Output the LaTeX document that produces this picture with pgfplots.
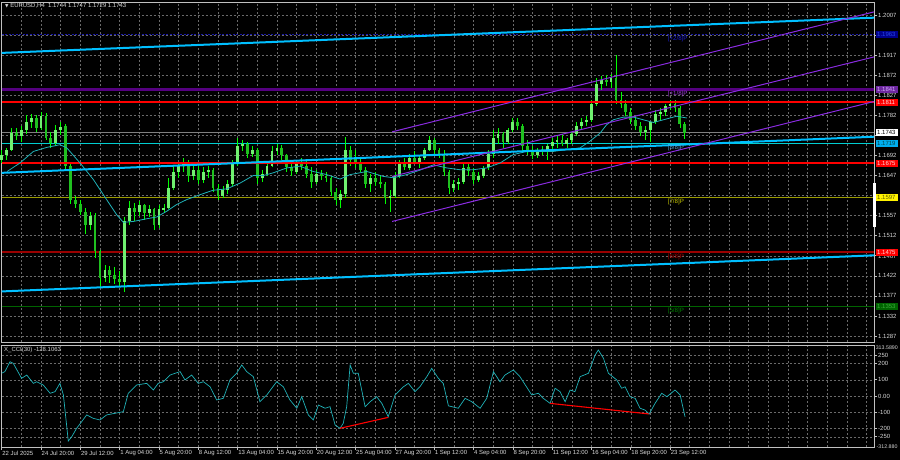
\documentclass[border=0pt]{standalone}
\usepackage{pgfplots}
\pgfplotsset{compat=1.18}
\usepackage{pgfplotstable}
\usepackage{fontspec}
\setmainfont{Liberation Sans}
\newfontfamily\dejavu{DejaVu Sans}
\definecolor{gridc}{HTML}{6A6A6A}
\definecolor{axisc}{HTML}{C0C0C0}
\definecolor{labc}{HTML}{D8D8D8}
\definecolor{wickc}{HTML}{00FF00}
\definecolor{bullc}{HTML}{70F070}
\definecolor{bearc}{HTML}{20C020}
\definecolor{mac}{HTML}{20B2B8}
\definecolor{trendc}{HTML}{00BFFF}
\definecolor{purpc}{HTML}{8A2BE2}
\definecolor{bandc}{HTML}{550080}
\definecolor{navyc}{HTML}{1A1AA8}
\definecolor{olivc}{HTML}{9B9B00}
\definecolor{dredc}{HTML}{9A0000}
\definecolor{dgreenc}{HTML}{006400}
\definecolor{cyanl}{HTML}{00CED1}
\tikzset{
  lab/.style={anchor=west, xshift=2bp, minimum height=7bp, text width=20bp,
    inner xsep=1bp, inner ysep=0pt, font=\fontsize{6}{6}\selectfont},
  mur/.style={anchor=north west, inner sep=0pt, yshift=-1.5bp, font=\fontsize{6.2}{7}\selectfont},
}

\pgfplotstableread{
i o h l c
0 1.1683 1.1705 1.1674 1.1694
2 1.1694 1.1709 1.1683 1.1705
4 1.1705 1.1754 1.1701 1.1743
6 1.1743 1.1754 1.1727 1.1736
8 1.1736 1.1757 1.1723 1.1750
10 1.1750 1.1783 1.1741 1.1768
12 1.1768 1.1786 1.1754 1.1777
14 1.1777 1.1783 1.1745 1.1754
16 1.1754 1.1790 1.1748 1.1781
18 1.1781 1.1788 1.1727 1.1732
20 1.1732 1.1745 1.1709 1.1721
22 1.1721 1.1761 1.1714 1.1750
24 1.1750 1.1768 1.1739 1.1757
26 1.1757 1.1763 1.1660 1.1669
28 1.1669 1.1674 1.1582 1.1593
30 1.1593 1.1602 1.1575 1.1584
32 1.1584 1.1593 1.1559 1.1566
34 1.1566 1.1575 1.1517 1.1535
36 1.1535 1.1566 1.1526 1.1557
38 1.1557 1.1562 1.1463 1.1477
40 1.1477 1.1481 1.1396 1.1418
42 1.1418 1.1447 1.1409 1.1436
44 1.1436 1.1445 1.1405 1.1423
46 1.1423 1.1441 1.1403 1.1414
48 1.1414 1.1432 1.1398 1.1409
50 1.1409 1.1553 1.1385 1.1544
52 1.1544 1.1589 1.1535 1.1575
54 1.1575 1.1586 1.1544 1.1566
56 1.1566 1.1589 1.1557 1.1580
58 1.1580 1.1584 1.1548 1.1562
60 1.1562 1.1580 1.1553 1.1571
62 1.1571 1.1575 1.1526 1.1535
64 1.1535 1.1580 1.1530 1.1571
66 1.1571 1.1582 1.1562 1.1575
68 1.1575 1.1642 1.1571 1.1620
70 1.1620 1.1671 1.1615 1.1656
72 1.1656 1.1678 1.1642 1.1669
74 1.1669 1.1687 1.1656 1.1678
76 1.1678 1.1683 1.1633 1.1647
78 1.1647 1.1669 1.1638 1.1660
80 1.1660 1.1669 1.1629 1.1638
82 1.1638 1.1665 1.1631 1.1656
84 1.1656 1.1669 1.1642 1.1660
86 1.1660 1.1665 1.1611 1.1620
88 1.1620 1.1629 1.1593 1.1602
90 1.1602 1.1624 1.1597 1.1615
92 1.1615 1.1638 1.1606 1.1629
94 1.1629 1.1683 1.1624 1.1674
96 1.1674 1.1732 1.1669 1.1714
98 1.1714 1.1727 1.1701 1.1718
100 1.1718 1.1723 1.1687 1.1696
102 1.1696 1.1714 1.1689 1.1705
104 1.1705 1.1709 1.1629 1.1642
106 1.1642 1.1660 1.1633 1.1651
108 1.1651 1.1678 1.1647 1.1669
110 1.1669 1.1714 1.1665 1.1701
112 1.1701 1.1718 1.1692 1.1709
114 1.1709 1.1716 1.1683 1.1692
116 1.1692 1.1696 1.1656 1.1665
118 1.1665 1.1674 1.1647 1.1656
120 1.1656 1.1683 1.1651 1.1674
122 1.1674 1.1687 1.1660 1.1669
124 1.1669 1.1683 1.1642 1.1651
126 1.1651 1.1665 1.1620 1.1633
128 1.1633 1.1660 1.1629 1.1651
130 1.1651 1.1660 1.1638 1.1647
132 1.1647 1.1656 1.1633 1.1642
134 1.1642 1.1647 1.1602 1.1611
136 1.1611 1.1620 1.1580 1.1593
138 1.1593 1.1615 1.1575 1.1606
140 1.1606 1.1734 1.1597 1.1705
142 1.1705 1.1714 1.1669 1.1683
144 1.1683 1.1705 1.1665 1.1674
146 1.1674 1.1687 1.1656 1.1660
148 1.1660 1.1665 1.1620 1.1629
150 1.1629 1.1651 1.1611 1.1642
152 1.1642 1.1656 1.1624 1.1633
154 1.1633 1.1647 1.1620 1.1629
156 1.1629 1.1633 1.1584 1.1597
158 1.1597 1.1615 1.1566 1.1602
160 1.1602 1.1656 1.1597 1.1647
162 1.1647 1.1683 1.1642 1.1674
164 1.1674 1.1687 1.1660 1.1665
166 1.1665 1.1696 1.1660 1.1687
168 1.1687 1.1701 1.1674 1.1678
170 1.1678 1.1694 1.1665 1.1687
172 1.1687 1.1709 1.1683 1.1705
174 1.1705 1.1736 1.1701 1.1727
176 1.1727 1.1732 1.1692 1.1705
178 1.1705 1.1709 1.1687 1.1696
180 1.1696 1.1705 1.1647 1.1656
182 1.1656 1.1660 1.1606 1.1620
184 1.1620 1.1638 1.1611 1.1629
186 1.1629 1.1642 1.1615 1.1633
188 1.1633 1.1674 1.1629 1.1665
190 1.1665 1.1678 1.1647 1.1656
192 1.1656 1.1665 1.1629 1.1638
194 1.1638 1.1656 1.1633 1.1647
196 1.1647 1.1669 1.1642 1.1665
198 1.1665 1.1705 1.1660 1.1696
200 1.1696 1.1750 1.1687 1.1732
202 1.1732 1.1754 1.1718 1.1741
204 1.1741 1.1745 1.1709 1.1723
206 1.1723 1.1754 1.1718 1.1750
208 1.1750 1.1777 1.1745 1.1768
210 1.1768 1.1777 1.1750 1.1759
212 1.1759 1.1763 1.1701 1.1714
214 1.1714 1.1727 1.1692 1.1701
216 1.1701 1.1714 1.1683 1.1692
218 1.1692 1.1709 1.1687 1.1705
220 1.1705 1.1714 1.1692 1.1701
222 1.1701 1.1718 1.1683 1.1714
224 1.1714 1.1732 1.1705 1.1723
226 1.1723 1.1736 1.1709 1.1727
228 1.1727 1.1741 1.1714 1.1718
230 1.1718 1.1732 1.1709 1.1727
232 1.1727 1.1745 1.1718 1.1741
234 1.1741 1.1768 1.1736 1.1759
236 1.1759 1.1777 1.1750 1.1768
238 1.1768 1.1781 1.1759 1.1772
240 1.1772 1.1817 1.1768 1.1808
242 1.1808 1.1866 1.1804 1.1853
244 1.1853 1.1871 1.1839 1.1862
246 1.1862 1.1873 1.1848 1.1857
248 1.1857 1.1875 1.1844 1.1866
250 1.1866 1.1918 1.1808 1.1817
252 1.1817 1.1835 1.1799 1.1808
254 1.1808 1.1817 1.1781 1.1790
256 1.1790 1.1799 1.1763 1.1772
258 1.1772 1.1781 1.1750 1.1759
260 1.1759 1.1768 1.1736 1.1745
262 1.1745 1.1759 1.1727 1.1750
264 1.1750 1.1763 1.1723 1.1768
266 1.1768 1.1795 1.1763 1.1786
268 1.1786 1.1799 1.1772 1.1790
270 1.1790 1.1808 1.1781 1.1804
272 1.1804 1.1817 1.1795 1.1808
274 1.1808 1.1817 1.1790 1.1799
276 1.1799 1.1804 1.1754 1.1763
278 1.1763 1.1768 1.1729 1.1743
}\candles

\pgfplotstableread{
i v
2.2 1.1656
7.4 1.1675
12.9 1.1701
18.3 1.1710
23.7 1.1716
26.5 1.1709
31.9 1.1675
37.3 1.1638
42.7 1.1593
46.8 1.1559
49.5 1.1542
53.6 1.1544
59.0 1.1550
63.1 1.1554
67.2 1.1567
71.2 1.1582
75.3 1.1593
80.7 1.1604
86.1 1.1614
91.6 1.1617
97.0 1.1630
102.4 1.1647
106.5 1.1647
110.5 1.1653
116.0 1.1664
121.4 1.1668
126.8 1.1656
132.3 1.1649
137.7 1.1639
141.8 1.1649
148.6 1.1656
155.3 1.1645
159.4 1.1642
164.8 1.1649
170.2 1.1659
175.7 1.1671
181.1 1.1664
186.5 1.1660
191.9 1.1660
197.4 1.1664
202.8 1.1675
208.2 1.1694
213.7 1.1701
219.1 1.1701
224.5 1.1701
229.9 1.1705
235.4 1.1709
239.4 1.1724
243.5 1.1742
246.2 1.1761
248.9 1.1772
253.0 1.1778
257.1 1.1778
261.1 1.1772
265.2 1.1766
269.3 1.1772
274.7 1.1780
278.8 1.1776
}\ma

\pgfplotstableread{
i v
0 140
1.3 150
3.4 211
4.7 201
8.1 109
10.2 129
12.9 78
14.2 88
16.9 68
19.7 17
21.7 27
23.7 78
25.1 7
27.1 -276
28.5 -250
30.5 -198
34.6 -116
37.3 -137
40.0 -147
42.7 -116
46.1 -106
49.5 -96
51.5 17
54.9 68
59.0 78
61.7 37
63.7 78
65.8 88
68.5 129
72.6 150
74.6 99
77.3 129
80.0 78
82.1 88
84.8 57
87.5 -24
90.2 -14
92.9 99
95.6 140
97.7 191
99.7 150
102.4 119
105.1 -35
107.9 7
111.9 88
114.6 57
117.3 -24
120.1 -75
122.1 -4
124.8 -116
126.8 -147
128.9 -55
131.6 -75
133.6 -65
135.7 -178
137.7 -198
139.0 -167
140.4 -65
141.8 191
143.1 140
145.1 140
147.9 -65
149.9 -35
152.6 -4
154.7 -45
157.3 -127
160.1 7
163.5 57
165.5 78
168.2 27
170.2 57
173.0 119
175.0 170
177.7 109
179.7 78
181.8 -60
185.8 -75
188.6 -14
191.3 -35
194.7 -75
197.4 -14
200.1 150
202.8 88
204.8 129
208.2 160
210.9 119
215.7 7
218.4 17
220.4 -14
223.2 -45
225.2 48
227.2 27
229.3 -35
231.3 37
233.3 27
235.4 119
238.8 140
241.5 252
242.8 283
244.9 232
246.9 140
250.3 99
252.3 48
253.7 57
255.7 -4
257.8 -14
259.8 -75
261.8 -86
263.5 -110
265.9 -45
268.6 17
270.7 -4
274.0 37
276.1 7
278.1 -128
}\cci

\begin{document}
\begin{tikzpicture}[x=1bp,y=1bp,font=\fontsize{6}{7}\selectfont]
\fill[black] (0,0) rectangle (900,460);
\useasboundingbox (0,0) rectangle (900,460);
% ---------------- main price panel ----------------
\begin{axis}[
  at={(1.7bp,118bp)}, anchor=south west,
  scale only axis, width=872.3bp, height=340bp,
  xmin=0, xmax=355, ymin=1.12736, ymax=1.20362,
  clip=false,
  axis line style={draw=axisc, line width=0.8bp},
  xtick={0,8,...,352}, xticklabels={},
  x tick style={draw=none},
  ytick={1.1287,1.1332,1.1377,1.1422,1.1467,1.1512,1.1557,1.1602,1.1647,1.1692,1.1737,1.1782,1.1827,1.1872,1.1917,1.1962,1.2007},
  yticklabels={1.1287,1.1332,1.1377,1.1422,\raisebox{-6bp}{1.1467},1.1512,1.1557,,1.1647,1.1692,,1.1782,1.1827,1.1872,1.1917,,1.2007},
  ytick pos=right, yticklabel pos=right,
  tick align=outside, major tick length=3bp,
  y tick style={draw=axisc, line width=0.6bp},
  yticklabel style={anchor=west, inner sep=0pt, xshift=1bp, text=labc, font=\fontsize{6}{7}\selectfont},
  grid=major,
  major grid style={draw=gridc, line width=0.5bp, dash pattern=on 2bp off 2bp},
]
% horizontal levels
\addplot[navyc, line width=0.8bp, dash pattern=on 2bp off 1.5bp] coordinates {(0,1.1963) (355,1.1963)};
\addplot[bandc, line width=3bp] coordinates {(0,1.1841) (355,1.1841)};
\addplot[olivc, line width=0.8bp] coordinates {(0,1.1597) (355,1.1597)};
\addplot[dredc, line width=1.6bp] coordinates {(0,1.1475) (355,1.1475)};
\addplot[dgreenc, line width=0.8bp] coordinates {(0,1.1353) (355,1.1353)};
\addplot[gray, line width=0.7bp] coordinates {(0,1.1743) (355,1.1743)};
\addplot[cyanl, line width=0.7bp] coordinates {(0,1.1719) (355,1.1719)};
% candles
\addplot[draw=none, mark=none, forget plot,
  error bars/.cd, y dir=both, y explicit, error mark=none,
  error bar style={draw=wickc, line width=0.7bp}]
  table[x=i, y expr={(\thisrow{h}+\thisrow{l})/2}, y error expr={(\thisrow{h}-\thisrow{l})/2}] {\candles};
\addplot[draw=none, mark=none, forget plot,
  error bars/.cd, y dir=both, y explicit, error mark=none,
  error bar style={draw=bearc, line width=2.8bp}]
  table[x=i, y expr={(\thisrow{o}+\thisrow{c})/2}, y error expr={ifthenelse(\thisrow{o}>\thisrow{c},(\thisrow{o}-\thisrow{c})/2,0)}] {\candles};
\addplot[draw=none, mark=none, forget plot,
  error bars/.cd, y dir=both, y explicit, error mark=none,
  error bar style={draw=bullc, line width=2.8bp}]
  table[x=i, y expr={(\thisrow{o}+\thisrow{c})/2}, y error expr={ifthenelse(\thisrow{c}>\thisrow{o},(\thisrow{c}-\thisrow{o})/2,0)}] {\candles};
% red levels
\addplot[red, line width=1.8bp] coordinates {(0,1.1811) (355,1.1811)};
\addplot[red, line width=1.8bp] coordinates {(0,1.1675) (355,1.1675)};
% moving average
\addplot[mac, line width=0.8bp] table[x=i, y=v] {\ma};
% trend channel (cyan)
\addplot[trendc, line width=2bp] coordinates {(0,1.1922) (355,1.2001)};
\addplot[trendc, line width=2bp] coordinates {(0,1.1653) (355,1.1734)};
\addplot[trendc, line width=2bp] coordinates {(0,1.1387) (355,1.1468)};
% purple regression channel
\addplot[purpc, line width=1bp] coordinates {(158.9,1.1745) (355,1.2014)};
\addplot[purpc, line width=1bp] coordinates {(158.9,1.1645) (355,1.1913)};
\addplot[purpc, line width=1bp] coordinates {(158.9,1.1544) (355,1.1813)};
% Murrey labels
\node[mur, text={rgb,255:red,30;green,30;blue,210}] at (axis cs:271,1.1963) {[+2/8]P};
\node[mur, text={rgb,255:red,160;green,60;blue,220}] at (axis cs:271,1.1841) {[+1/8]P};
\node[mur, text={rgb,255:red,90;green,160;blue,210}] at (axis cs:271,1.1719) {[8/8]P};
\node[mur, text={rgb,255:red,200;green,200;blue,0}] at (axis cs:271,1.1597) {[7/8]P};
\node[mur, text={rgb,255:red,180;green,0;blue,0}] at (axis cs:271,1.1475) {[6/8]P};
\node[mur, text={rgb,255:red,0;green,130;blue,0}] at (axis cs:271,1.1353) {[5/8]P};
% right price boxes
\node[lab, fill={rgb,255:red,0;green,0;blue,140}, text={rgb,255:red,40;green,70;blue,230}] at (axis cs:355,1.1963) {1.1963};
\node[lab, fill={rgb,255:red,110;green,40;blue,160}, text={rgb,255:red,210;green,170;blue,250}] at (axis cs:355,1.1841) {1.1841};
\node[lab, fill=red, text={rgb,255:red,255;green,215;blue,215}] at (axis cs:355,1.1811) {1.1811};
\node[lab, fill=white, text=black] at (axis cs:355,1.1743) {1.1743};
\node[lab, fill=cyan, text={rgb,255:red,0;green,70;blue,70}] at (axis cs:355,1.1719) {1.1719};
\node[lab, fill=red, text={rgb,255:red,255;green,215;blue,215}] at (axis cs:355,1.1675) {1.1675};
\node[lab, fill=yellow, text={rgb,255:red,90;green,90;blue,0}] at (axis cs:355,1.1597) {1.1597};
\node[lab, fill=red, text={rgb,255:red,255;green,215;blue,215}] at (axis cs:355,1.1475) {1.1475};
\node[lab, fill={rgb,255:red,0;green,100;blue,0}, text={rgb,255:red,60;green,170;blue,60}] at (axis cs:355,1.1353) {1.1353};
\end{axis}
% ---------------- CCI panel ----------------
\begin{axis}[
  at={(1.7bp,13bp)}, anchor=south west,
  scale only axis, width=872.3bp, height=102bp,
  xmin=0, xmax=355, ymin=-312.88, ymax=313.589,
  clip=false,
  axis line style={draw=axisc, line width=0.8bp},
  xtick={0,16,...,272},
  xticklabels={22 Jul 2025,24 Jul 20:00,29 Jul 12:00,1 Aug 04:00,5 Aug 20:00,8 Aug 12:00,13 Aug 04:00,15 Aug 20:00,20 Aug 12:00,25 Aug 04:00,27 Aug 20:00,1 Sep 12:00,4 Sep 04:00,8 Sep 20:00,11 Sep 12:00,16 Sep 04:00,18 Sep 20:00,23 Sep 12:00},
  minor xtick={8,16,...,352},
  xtick pos=bottom,
  ytick={-250,-200,-100,0,100,200,250},
  yticklabels={-250,-200,-100,0.00,100,200,250},
  ytick pos=right, yticklabel pos=right,
  tick align=outside, major tick length=3bp, minor tick length=0bp,
  tick style={draw=axisc, line width=0.6bp},
  yticklabel style={anchor=west, inner sep=0pt, xshift=1bp, text=labc, font=\fontsize{6}{7}\selectfont},
  xticklabel style={anchor=north west, inner sep=0pt, xshift=0.5bp, yshift=-0.5bp, text=labc, font=\fontsize{6}{7}\selectfont},
  grid=both,
  major grid style={draw=gridc, line width=0.5bp, dash pattern=on 2bp off 2bp},
  minor grid style={draw=gridc, line width=0.5bp, dash pattern=on 2bp off 2bp},
]
\addplot[mac, line width=0.7bp] table[x=i, y=v] {\cci};
\addplot[red, line width=1.1bp] coordinates {(137.7,-198) (157.3,-131)};
\addplot[red, line width=1.1bp] coordinates {(223.2,-45) (263.5,-110)};
\end{axis}
% right-edge min/max of the CCI window, title, indicator label, scrollbar
\node[anchor=north west, inner sep=0pt, text=labc, font=\fontsize{5.3}{6}\selectfont] at (875.6,114.5) {313.5890};
\node[anchor=west, inner sep=0pt, text=labc, font=\fontsize{5.3}{6}\selectfont] at (876.5,13) {-312.880};
\node[anchor=west, inner sep=0pt, text=labc] at (5,454) {{\dejavu\fontsize{4.5}{5}\selectfont ▼}\ EURUSD,H4\ \ 1.1744 1.1747 1.1729 1.1743};
\node[anchor=west, inner sep=0pt, text=labc] at (4,110) {X\_CCI(30) -128.1063};
\fill[white] (873,233) rectangle (876,277);
\end{tikzpicture}
\end{document}
